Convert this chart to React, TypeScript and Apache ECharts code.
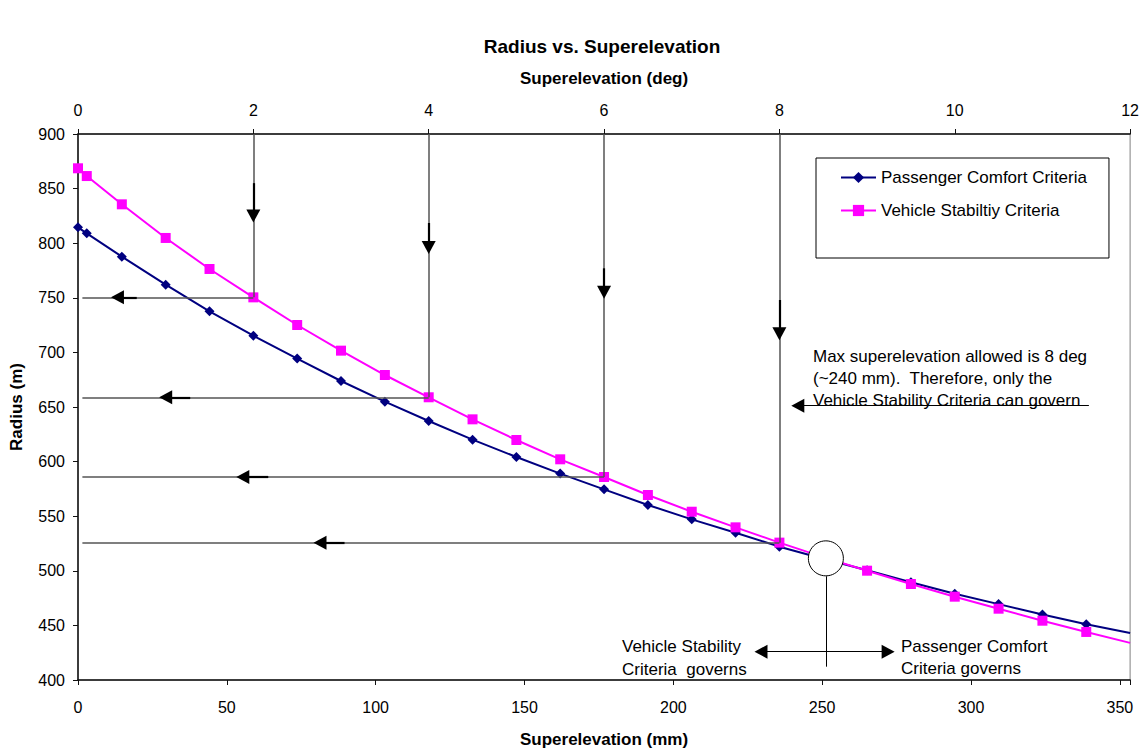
import React, { useEffect, useRef } from 'react';
import * as echarts from 'echarts';

const FONT = '"Liberation Sans", Arial, Helvetica, sans-serif';

// Superelevation in degrees (top axis)
const DEG = [0, 0.1, 0.5, 1, 1.5, 2, 2.5, 3, 3.5, 4, 4.5, 5, 5.5, 6, 6.5, 7, 7.5, 8, 8.5, 9, 9.5, 10, 10.5, 11, 11.5, 12];
// Radius (m)
const PASSENGER = [814.5, 809, 787.7, 762, 737.6, 715.3, 694.3, 673.8, 654.9, 637.2, 620.1, 604.2, 589, 574.6, 560.3, 547.1, 534.9, 522.1, 511, 500.5, 489.5, 479, 469.5, 460, 451, 443];
const VEHICLE = [868.6, 861.5, 835.6, 804.8, 776.4, 750.4, 725.1, 701.6, 679.3, 658.9, 638.7, 619.8, 602.1, 585.9, 569.4, 554.1, 539.8, 525.8, 512.5, 500.1, 487.9, 476.3, 465.3, 454.3, 444, 434];

const SERIES_NAMES = ['Passenger Comfort Criteria', 'Vehicle Stabiltiy Criteria'];
const MM_MAX = 353.45; // 1700 mm * sin(12 deg)
const GUIDE_DEGS = [2, 4, 6, 8];
const CROSSOVER = [8.53, 511.4];

const TITLE = 'Radius vs. Superelevation';
const X_TOP_NAME = 'Superelevation (deg)';
const X_BOTTOM_NAME = 'Superelevation (mm)';
const Y_NAME = 'Radius (m)';
const NOTE_MAX = 'Max superelevation allowed is 8 deg\n(~240 mm).  Therefore, only the\nVehicle Stability Criteria can govern';
const NOTE_LEFT = 'Vehicle Stability\nCriteria  governs';
const NOTE_RIGHT = 'Passenger Comfort\nCriteria governs';

// annotation arrow placements (in chart data units)
const V_ARROW = [[855, 825], [818.5, 796], [777, 755], [748, 717]];
const H_ARROW = [[0.67, 0.45], [1.28, 1.0], [2.17, 1.88], [3.04, 2.76]];
const GUIDE_START = 0.05;
const HEAD_SIZE = [14, 13];

function buildOption() {
  const vAt = (d: number) => VEHICLE[DEG.indexOf(d)];
  const guideStyle = { color: '#555', width: 1.5, type: 'solid' };
  const shaftStyle = { color: '#000', width: 2.2, type: 'solid' };
  const thinStyle = { color: '#000', width: 1, type: 'solid' };
  const head = { symbol: 'triangle', symbolSize: HEAD_SIZE, itemStyle: { color: '#000' } };

  const ml: any[] = [];
  GUIDE_DEGS.forEach((d, i) => {
    const v = vAt(d);
    ml.push([{ coord: [d, 900], lineStyle: guideStyle }, { coord: [d, v] }]);
    ml.push([{ coord: [GUIDE_START, v], lineStyle: guideStyle }, { coord: [d, v] }]);
    ml.push([{ coord: [d, V_ARROW[i][0]], lineStyle: shaftStyle }, { coord: [d, V_ARROW[i][1]], ...head }]);
    ml.push([{ coord: [H_ARROW[i][0], v], lineStyle: shaftStyle }, { coord: [H_ARROW[i][1], v], ...head }]);
  });
  ml.push([{ coord: [11.53, 651.2], lineStyle: thinStyle }, { coord: [8.21, 651.2], ...head }]);
  ml.push([{ coord: [7.79, 425.9], lineStyle: thinStyle, ...head }, { coord: [9.24, 425.9], ...head }]);
  ml.push([{ coord: [CROSSOVER[0], 495], lineStyle: thinStyle }, { coord: [CROSSOVER[0], 412.2] }]);

  const mkData = (vals: number[]) =>
    DEG.map((d, i) => (i === DEG.length - 1 ? { value: [d, vals[i]], symbol: 'none' } : [d, vals[i]]));

  const axisLine = { show: true, lineStyle: { color: '#111', width: 1.5 } };
  const axisTick = { show: true, length: 5, inside: false, lineStyle: { color: '#111', width: 1 } };
  const labelStyle = { fontFamily: FONT, fontSize: 16, color: '#000' };
  const nameStyle = { fontFamily: FONT, fontSize: 17, fontWeight: 'bold', color: '#000' };

  const textEl = (x: number, y: number, text: string, lh: number) => ({
    type: 'text',
    x,
    y,
    z: 100,
    silent: true,
    style: { text, fontFamily: FONT, fontSize: 17, fill: '#000', lineHeight: lh, align: 'left', verticalAlign: 'top' },
  });

  return {
    animation: false,
    backgroundColor: '#fff',
    title: {
      text: TITLE,
      left: 602,
      top: 37,
      padding: 0,
      textAlign: 'center',
      textStyle: { fontFamily: FONT, fontSize: 19, fontWeight: 'bold', color: '#000' },
    },
    grid: { left: 77, top: 134, right: 11, bottom: 74, show: true, borderColor: '#808080', borderWidth: 1, backgroundColor: 'transparent' },
    legend: {
      data: SERIES_NAMES,
      orient: 'vertical',
      left: 816,
      top: 158,
      itemWidth: 35,
      itemHeight: 14,
      itemGap: 16,
      padding: [11, 22, 39, 24],
      backgroundColor: '#fff',
      borderColor: '#000',
      borderWidth: 1,
      borderRadius: 0,
      selectedMode: false,
      textStyle: { fontFamily: FONT, fontSize: 17, color: '#000' },
    },
    xAxis: [
      {
        type: 'value',
        position: 'bottom',
        min: 0,
        max: MM_MAX,
        interval: 50,
        name: X_BOTTOM_NAME,
        nameLocation: 'middle',
        nameGap: 51,
        nameTextStyle: nameStyle,
        axisLine,
        axisTick,
        splitLine: { show: false },
        axisLabel: { ...labelStyle, margin: 19, formatter: (v: number) => (Math.abs(v % 50) < 1e-6 ? String(v) : '') },
      },
      {
        type: 'value',
        position: 'top',
        min: 0,
        max: 12,
        interval: 2,
        name: X_TOP_NAME,
        nameLocation: 'middle',
        nameGap: 47,
        nameTextStyle: nameStyle,
        axisLine,
        axisTick,
        splitLine: { show: false },
        axisLabel: { ...labelStyle, margin: 16 },
      },
    ],
    yAxis: {
      type: 'value',
      min: 400,
      max: 900,
      interval: 50,
      name: Y_NAME,
      nameLocation: 'middle',
      nameGap: 53,
      nameTextStyle: nameStyle,
      axisLine,
      axisTick,
      splitLine: { show: false },
      axisLabel: { ...labelStyle, margin: 13 },
    },
    series: [
      {
        type: 'line',
        name: SERIES_NAMES[0],
        xAxisIndex: 1,
        yAxisIndex: 0,
        data: mkData(PASSENGER),
        symbol: 'diamond',
        symbolSize: 10,
        showSymbol: true,
        showAllSymbol: true,
        lineStyle: { color: '#000080', width: 2 },
        itemStyle: { color: '#000080' },
        emphasis: { disabled: true },
        silent: true,
      },
      {
        type: 'line',
        name: SERIES_NAMES[1],
        xAxisIndex: 1,
        yAxisIndex: 0,
        data: mkData(VEHICLE),
        symbol: 'rect',
        symbolSize: 10,
        showSymbol: true,
        showAllSymbol: true,
        lineStyle: { color: '#FF00FF', width: 2 },
        itemStyle: { color: '#FF00FF' },
        emphasis: { disabled: true },
        silent: true,
        markLine: {
          silent: true,
          symbol: ['none', 'none'],
          symbolSize: [HEAD_SIZE[0], HEAD_SIZE[0]],
          label: { show: false },
          emphasis: { disabled: true },
          itemStyle: { color: '#000' },
          data: ml,
        },
        markPoint: {
          silent: true,
          symbol: 'circle',
          symbolSize: 35,
          itemStyle: { color: '#fff', borderColor: '#000', borderWidth: 1 },
          label: { show: false },
          emphasis: { disabled: true },
          z: 10,
          data: [{ coord: CROSSOVER }],
        },
      },
    ],
    graphic: [
      textEl(813, 346, NOTE_MAX, 21.7),
      textEl(622, 635.4, NOTE_LEFT, 22.6),
      textEl(901, 635.4, NOTE_RIGHT, 21.8),
    ],
  };
}

export default function App() {
  const ref = useRef<HTMLDivElement>(null);
  useEffect(() => {
    document.body.style.margin = '0';
    const chart = echarts.init(ref.current as HTMLDivElement, null, { renderer: 'svg' });
    chart.setOption(buildOption() as any);
    return () => chart.dispose();
  }, []);
  return (
    <div
      ref={ref}
      style={{ position: 'absolute', left: 0, top: 0, width: 1142, height: 754, background: '#fff' }}
    />
  );
}
